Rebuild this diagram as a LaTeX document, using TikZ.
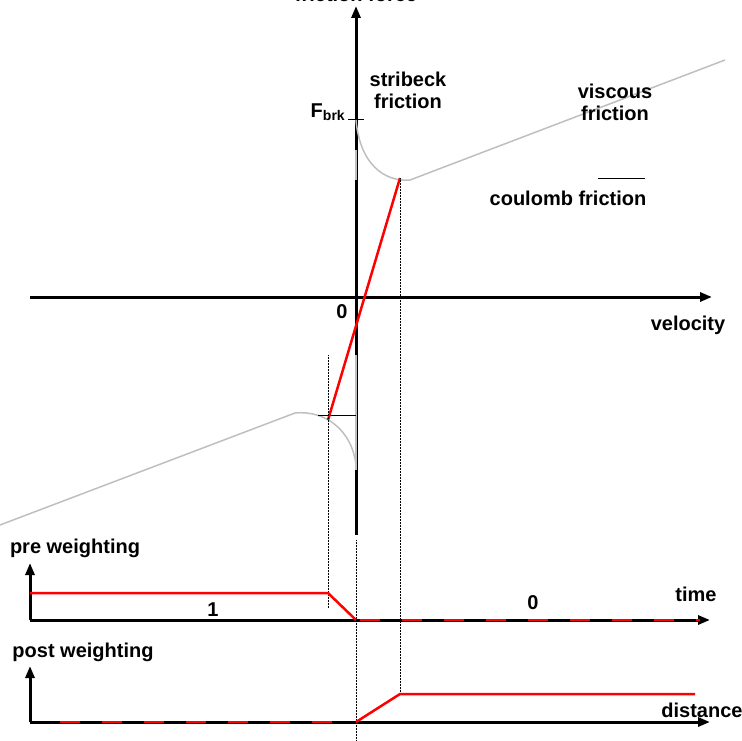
\documentclass[tikz,border=0pt]{standalone}
\usepackage{fontspec}
\setmainfont{Liberation Sans}
\usetikzlibrary{arrows.meta}
\begin{document}
\begin{tikzpicture}[x=1pt,y=-1pt,
    axis/.style = {line width=3pt,-{Triangle[length=12pt,width=9pt]}},
    curve/.style = {gray!50,line width=1.5pt},
    weight/.style = {red,line width=2.5pt},
    guide/.style = {densely dotted,line width=0.5pt},
    lbl/.style = {font=\fontsize{20}{22}\selectfont\bfseries,inner sep=0pt,align=center}]
  \useasboundingbox (0,0) rectangle (741,741);
  % axes of the friction plot
  \coordinate (vbot) at (356,535);
  \coordinate (vtop) at (356,6);
  \coordinate (hleft) at (30,297);
  \coordinate (hright) at (712,297);
  \draw[axis] (vbot) -- (vtop);
  \draw[axis] (hleft) -- (hright);
  \coordinate (fbrk) at (356,120);
  \draw[line width=1pt] (348,120) -- (364,120);
  \node[lbl] (flabel) at (328,112) {F\textsubscript{\textbf{brk}}};
  \node[lbl,anchor=base] (ftitle) at (356,2) {friction force};
  \node[lbl] (zero) at (342,312) {0};
  \node[lbl] (vel) at (688,325) {velocity};
  % friction curve
  \coordinate (upmin) at (410,180);
  \coordinate (upend) at (725,60);
  \coordinate (lowstart) at (356,465);
  \coordinate (lowmax) at (295,413);
  \coordinate (lowend) at (0,525);
  \draw[curve] (fbrk) .. controls (360,165) and (385,182) .. (upmin) -- (upend);
  \draw[curve] (lowstart) .. controls (352,430) and (325,410) .. (lowmax) -- (lowend);
  \draw[curve] (356,150) -- (356,180);
  \draw[curve] (356,355) -- (356,470);
  % linearised zone
  \coordinate (rlow) at (328,420);
  \coordinate (rhigh) at (400,178);
  \draw[line width=1pt] (318,415) -- (356,415);
  \draw[weight] (rlow) -- (rhigh);
  \draw[guide] (328,355) -- (328,608);
  \draw[guide] (356,540) -- (356,741);
  \draw[guide] (400,178) -- (400,695);
  \node[lbl] (strib) at (408,90) {stribeck\\friction};
  \node[lbl] (visc) at (615,102) {viscous\\friction};
  \node[lbl] (coul) at (568,198) {coulomb friction};
  \draw[line width=0.8pt] (598,178) -- (645,178);
  % pre weighting
  \coordinate (pre0) at (30,620);
  \draw[axis] (pre0) -- (710,620);
  \draw[axis] (pre0) -- (30,563);
  \node[lbl] (prelbl) at (75,548) {pre weighting};
  \draw[weight] (30,593) -- (328,593) -- (356,620);
  \draw[weight,dash pattern=on 20pt off 22pt,dash phase=-4pt] (356,620) -- (700,620);
  \node[lbl] (one) at (213,610) {1};
  \node[lbl] (nil) at (533,603) {0};
  \node[lbl] (time) at (696,594) {time};
  % post weighting
  \coordinate (post0) at (30,722);
  \draw[axis] (post0) -- (710,722);
  \draw[axis] (post0) -- (30,666);
  \node[lbl] (postlbl) at (83,652) {post weighting};
  \draw[weight,dash pattern=on 20pt off 22pt] (60,722) -- (342,722);
  \draw[weight] (356,722) -- (400,694) -- (695,694);
  \node[lbl] (dist) at (702,710) {distance};
\end{tikzpicture}
\end{document}
